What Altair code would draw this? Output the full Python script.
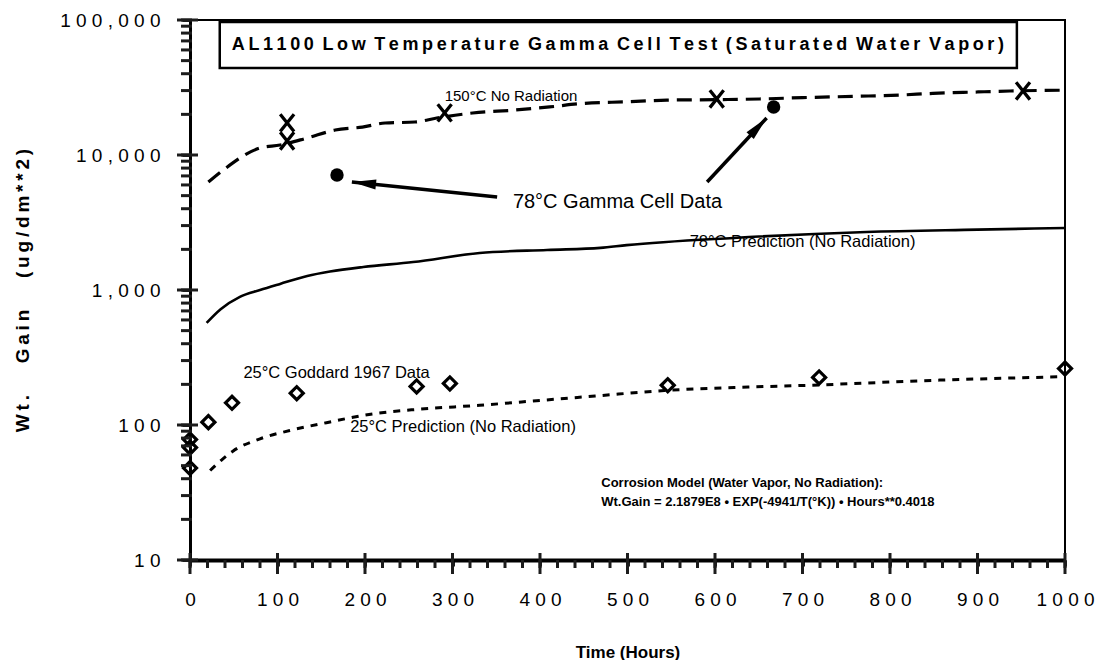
import altair as alt
import pandas as pd

# ---- data ----
# 150 C prediction (dashed)
t150 = [21, 38, 80, 103, 134, 166, 197, 223, 257, 282, 323, 370, 411, 446, 500, 545, 600, 651, 700, 760, 811, 849, 900, 937, 1000]
v150 = [6300, 7740, 11270, 11860, 13370, 15310, 16100, 17260, 17550, 18790, 20460, 21500, 22700, 24000, 24800, 25500, 25700, 26000, 26600, 27200, 27800, 28600, 29300, 29800, 30200]
# 78 C prediction (solid)
t78 = [19, 35, 57, 80, 103, 134, 160, 198, 255, 331, 408, 469, 499, 621, 773, 900, 1000]
v78 = [570, 720, 890, 1000, 1110, 1270, 1370, 1480, 1610, 1880, 1980, 2050, 2150, 2430, 2690, 2800, 2880]
# 25 C prediction (dotted)
t25 = [23, 36, 49, 80, 114, 156, 209, 263, 331, 400, 463, 542, 638, 708, 857, 1000]
v25 = [46, 55, 64, 79, 91, 104, 121, 131, 140, 152, 164, 180, 191, 197, 215, 228]
# 25 C Goddard 1967 data (diamonds)
tG = [0, 0, 0, 21, 48, 122, 259, 297, 546, 719, 1000]
vG = [48, 68, 78, 105, 146, 172, 193, 203, 197, 225, 262]
# 150 C data (x markers)
tX = [111, 111, 291, 602, 952]
vX = [17300, 12700, 20500, 26000, 29800]
# 78 C gamma cell data (filled circles)
tC = [168, 667]
vC = [7100, 22700]

# arrows (tail -> tip) in data units
arrow_t = [351, 591]
arrow_v = [4890, 6310]
arrow_t2 = [185, 659]
arrow_v2 = [6310, 18800]
arrow_angle = [276, 43]

# annotation texts
title_words = ["AL1100", "Low", "Temperature", "Gamma", "Cell", "Test", "(Saturated", "Water", "Vapor)"]
box_t, box_t2, box_v, box_v2 = [34], [945], [96650], [44060]
title_t, title_v = [489], [65300]

lbl_small_text = ["150°C No Radiation"]
lbl_small_t = [291]
lbl_small_v = [27400]

lbl_text = ["78°C Prediction (No Radiation)", "25°C Goddard 1967 Data", "25°C Prediction (No Radiation)"]
lbl_t = [571, 61, 183]
lbl_v = [2270, 243, 96.6]

gamma_text = ["78°C Gamma Cell Data"]
gamma_t = [369]
gamma_v = [4490]

model_text = ["Corrosion Model (Water Vapor, No Radiation):",
              "Wt.Gain = 2.1879E8 • EXP(-4941/T(°K)) • Hours**0.4018"]
model_t = [470, 470]
model_v = [37.2, 26.9]

y_title_words = ["Wt.", "Gain", "(ug/dm**2)"]

x_minor = list(range(0, 1001, 20))
x_major = list(range(0, 1001, 100))
y_major = [10, 100, 1000, 10000, 100000]
y_minor = [d * k for d in [10, 100, 1000, 10000] for k in range(1, 10)] + [100000]

# letter-spaced strings (thin spaces between letters, as in the scanned original)
THIN = "\u2009"
NB = "\u00a0"
title_text = (THIN + " ").join(THIN.join(w) for w in title_words)
y_title = (NB * 6).join(THIN.join(w) for w in y_title_words)

# ---- scales / axes ----
FONT = "Liberation Sans"
INK = "#1c1c1c"
xs = alt.Scale(domain=[0, 1000], nice=False, zero=False)
ys = alt.Scale(type="log", domain=[10, 100000], nice=False)

xaxis = alt.Axis(
    values=x_major, format="d",
    labelExpr="join(split(datum.label, ''), ' ')",
    tickSize=6, tickWidth=3, tickColor=INK,
    domainWidth=4, domainColor="black",
    labelFont=FONT, labelFontSize=19, labelColor="black", labelPadding=24,
    labelFlush=False, labelOverlap=False, labelBound=False,
    title="Time (Hours)", titleFont=FONT, titleFontSize=17, titleFontWeight="bold",
    titleColor="black", titleY=92, titleBaseline="middle", grid=False,
)
yaxis = alt.Axis(
    values=y_major, format=",",
    labelExpr="join(split(datum.label, ''), ' ')",
    tickSize=8, tickWidth=3, tickColor=INK,
    domainWidth=3, domainColor="black",
    labelFont=FONT, labelFontSize=19, labelColor="black", labelPadding=22,
    labelOverlap=False, labelBound=False, labelFlush=False,
    title=y_title,
    titleFont=FONT, titleFontSize=19, titleFontWeight="bold", titleColor="black",
    titleX=-168, titleY=270, titleAngle=270, titleAlign="center", titleBaseline="middle",
    grid=False,
)

def X(f):
    return alt.X(f, type="quantitative", scale=xs, axis=xaxis)

def Y(f):
    return alt.Y(f, type="quantitative", scale=ys, axis=yaxis)

# ---- layers ----
d150 = pd.DataFrame({"t": t150, "v": v150})
d78 = pd.DataFrame({"t": t78, "v": v78})
d25 = pd.DataFrame({"t": t25, "v": v25})
dG = pd.DataFrame({"t": tG, "v": vG})
dX = pd.DataFrame({"t": tX, "v": vX})
dC = pd.DataFrame({"t": tC, "v": vC})
dA = pd.DataFrame({"t": arrow_t, "v": arrow_v, "t2": arrow_t2, "v2": arrow_v2, "ang": arrow_angle})

line150 = alt.Chart(d150).mark_line(color="black", strokeWidth=3.2, strokeDash=[15, 8], interpolate="monotone").encode(x=X("t"), y=Y("v"))
line78 = alt.Chart(d78).mark_line(color="black", strokeWidth=2.6, interpolate="monotone").encode(x=X("t"), y=Y("v"))
line25 = alt.Chart(d25).mark_line(color="black", strokeWidth=3, strokeDash=[7, 7], interpolate="monotone").encode(x=X("t"), y=Y("v"))

diamonds = alt.Chart(dG).mark_point(shape="diamond", filled=False, color="black", strokeWidth=3.2, size=170, opacity=1).encode(x=X("t"), y=Y("v"))
xmarks = alt.Chart(dX).mark_point(shape="M-0.8,-1L0.8,1M0.8,-1L-0.8,1", filled=False, color="black", strokeWidth=3.3, size=300, opacity=1).encode(x=X("t"), y=Y("v"))
circles = alt.Chart(dC).mark_point(shape="circle", filled=True, color="black", size=180, opacity=1).encode(x=X("t"), y=Y("v"))

arrow_lines = alt.Chart(dA).mark_rule(color="black", strokeWidth=3.5).encode(x=X("t"), y=Y("v"), x2="t2", y2="v2")
arrow_heads = alt.Chart(dA).mark_point(shape="M0,0L0.45,2.2L-0.45,2.2Z", filled=True, color="black", size=484, opacity=1).encode(
    x=X("t2"), y=Y("v2"), angle=alt.Angle("ang:Q", scale=None))

box = alt.Chart(pd.DataFrame({"t": box_t, "t2": box_t2, "v": box_v, "v2": box_v2})).mark_rect(
    fill="white", stroke="black", strokeWidth=2.5).encode(x=X("t"), x2="t2", y=Y("v"), y2="v2")
title_mark = alt.Chart(pd.DataFrame({"t": title_t, "v": title_v, "s": [title_text]})).mark_text(
    font=FONT, fontWeight="bold", fontSize=18, color="black", align="center", baseline="middle").encode(
    x=X("t"), y=Y("v"), text="s:N")

small_lbl = alt.Chart(pd.DataFrame({"t": lbl_small_t, "v": lbl_small_v, "s": lbl_small_text})).mark_text(
    font=FONT, fontSize=15, color="black", align="left", baseline="middle").encode(x=X("t"), y=Y("v"), text="s:N")
lbls = alt.Chart(pd.DataFrame({"t": lbl_t, "v": lbl_v, "s": lbl_text})).mark_text(
    font=FONT, fontSize=16.5, color="black", align="left", baseline="middle").encode(x=X("t"), y=Y("v"), text="s:N")
gamma_lbl = alt.Chart(pd.DataFrame({"t": gamma_t, "v": gamma_v, "s": gamma_text})).mark_text(
    font=FONT, fontSize=20, color="black", align="left", baseline="middle").encode(x=X("t"), y=Y("v"), text="s:N")
model_lbl = alt.Chart(pd.DataFrame({"t": model_t, "v": model_v, "s": model_text})).mark_text(
    font=FONT, fontWeight="bold", fontSize=13, color="black", align="left", baseline="middle").encode(x=X("t"), y=Y("v"), text="s:N")

# tick marks drawn as rules on the axes
xmin_r = alt.Chart(pd.DataFrame({"t": x_minor})).mark_rule(color=INK, strokeWidth=3).encode(
    x=X("t"), y=alt.value(540), y2=alt.value(548))
xmaj_r = alt.Chart(pd.DataFrame({"t": x_major})).mark_rule(color=INK, strokeWidth=3).encode(
    x=X("t"), y=alt.value(533), y2=alt.value(554))
ymin_r = alt.Chart(pd.DataFrame({"v": y_minor})).mark_rule(color=INK, strokeWidth=3).encode(
    y=Y("v"), x=alt.value(-9), x2=alt.value(2))
ymaj_r = alt.Chart(pd.DataFrame({"v": y_major})).mark_rule(color=INK, strokeWidth=3).encode(
    y=Y("v"), x=alt.value(-13), x2=alt.value(8))

chart = alt.layer(
    line150, line78, line25, box, title_mark,
    arrow_lines, arrow_heads, diamonds, xmarks, circles,
    small_lbl, lbls, gamma_lbl, model_lbl, xmin_r, xmaj_r, ymin_r, ymaj_r,
).properties(
    width=875, height=540,
    autosize=alt.AutoSizeParams(type="none"),
    padding={"left": 182, "top": 12, "right": 40, "bottom": 100},
    background="white",
).configure_view(stroke="black", strokeWidth=2)

chart.save("out.html", embed_options={"renderer": "svg", "actions": False})
